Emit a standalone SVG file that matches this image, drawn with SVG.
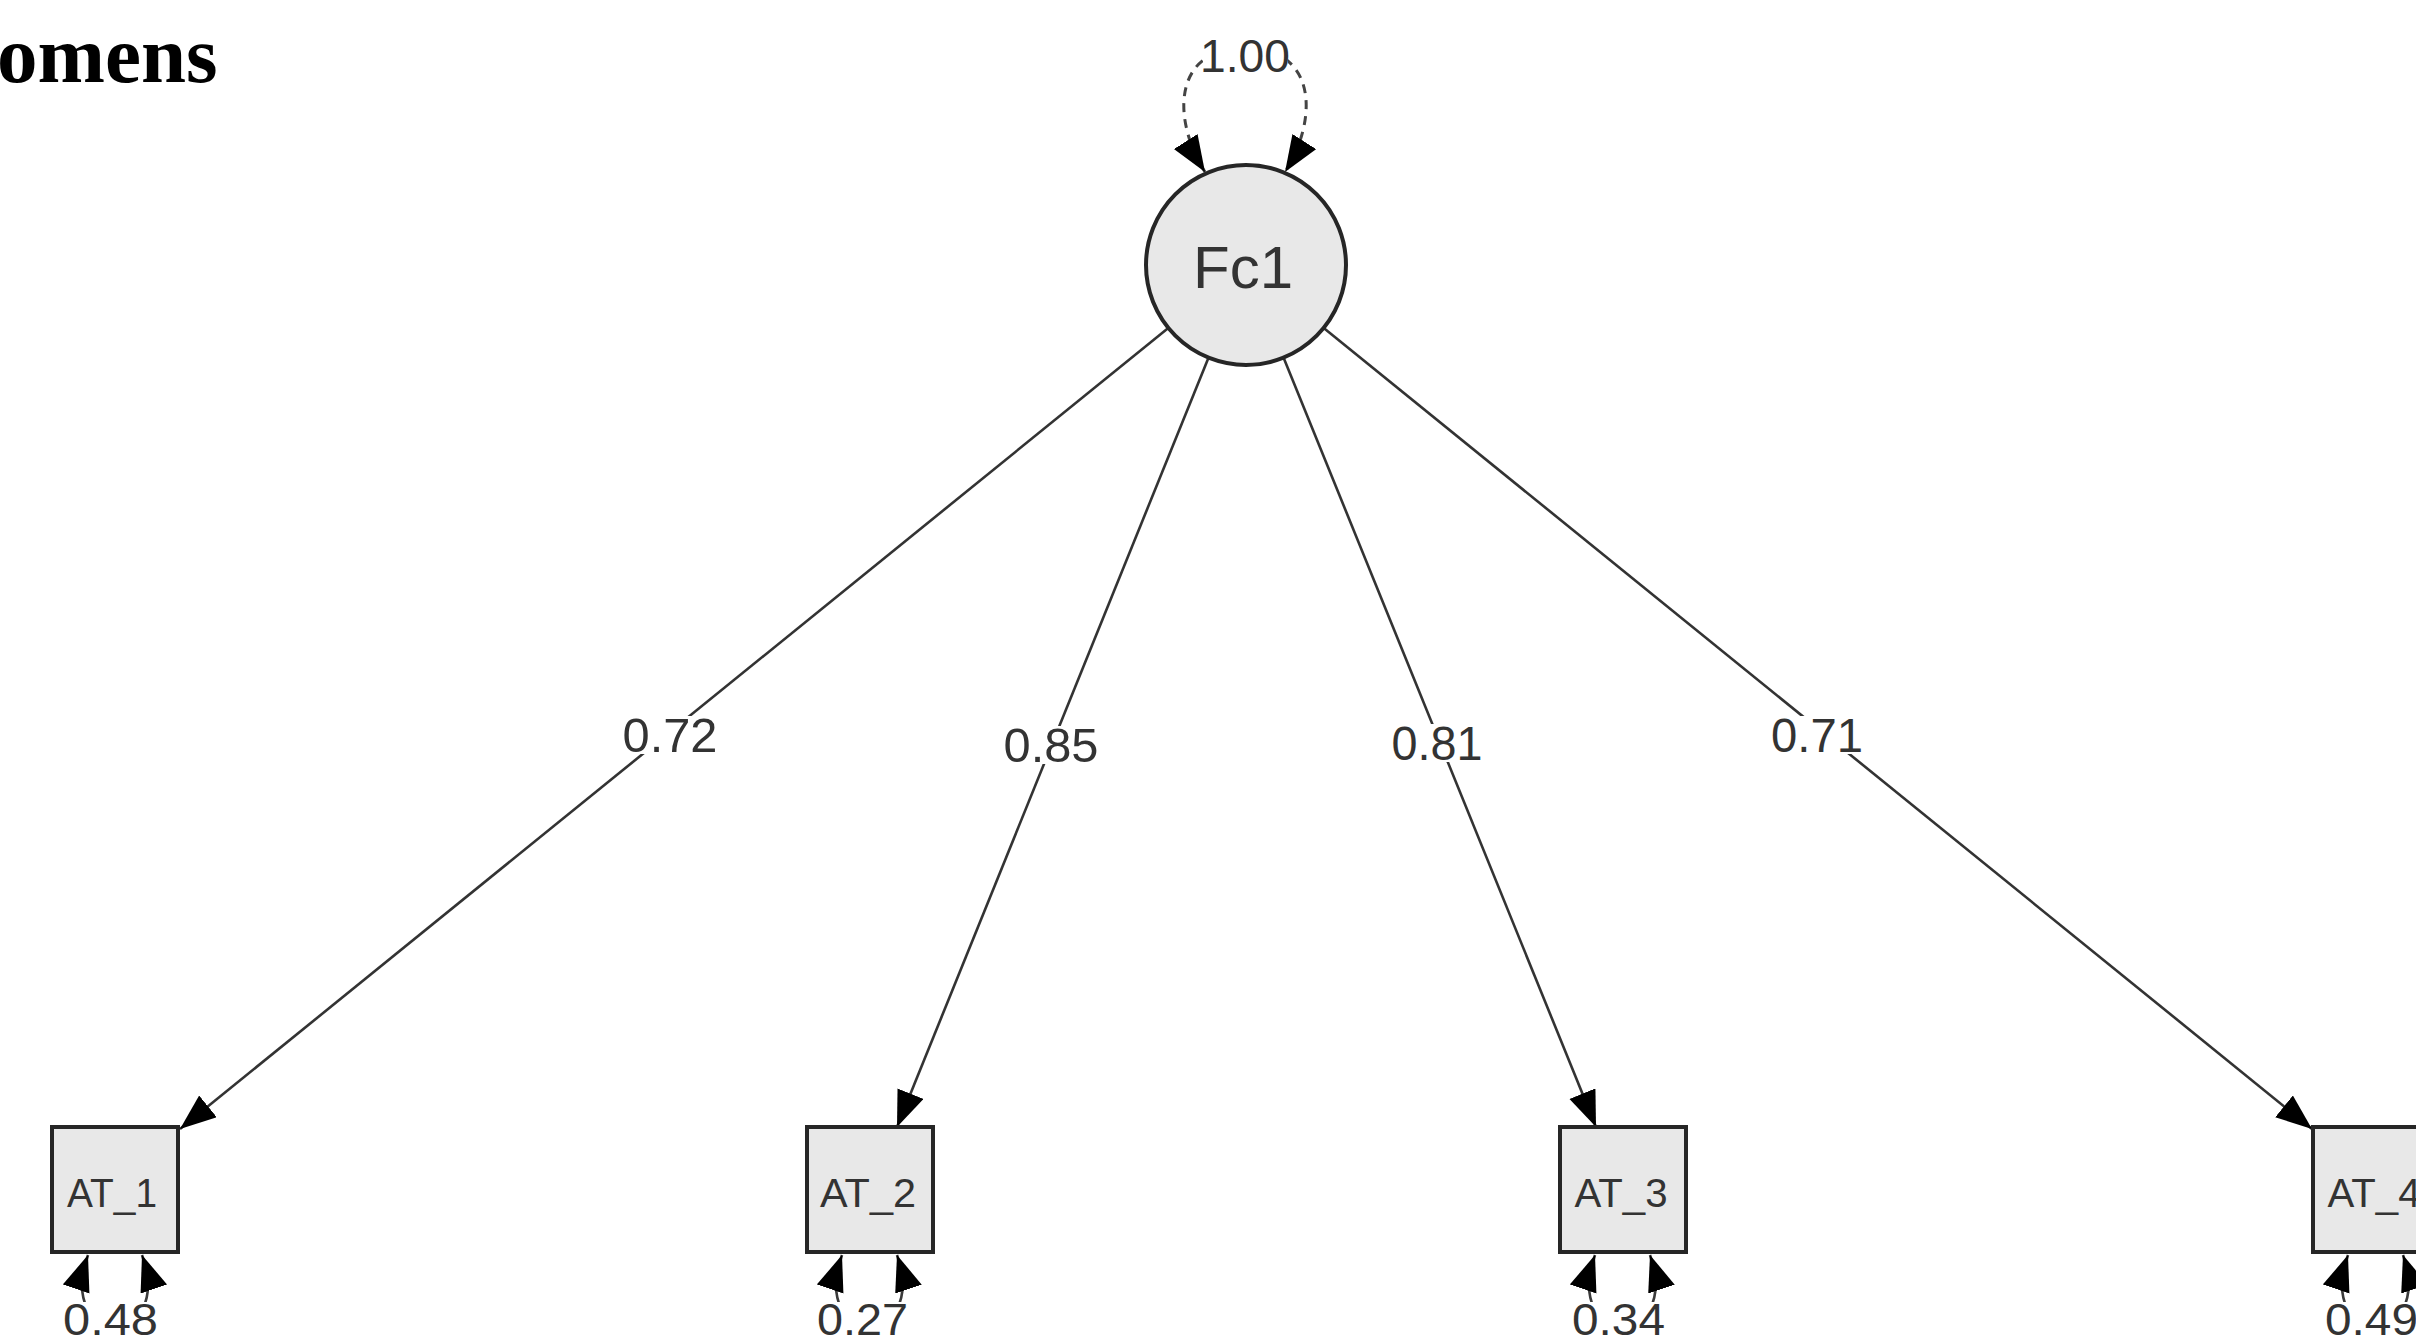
<svg xmlns="http://www.w3.org/2000/svg" width="2416" height="1344" viewBox="0 0 2416 1344">
  <style>
    .node { fill: #e8e8e8; stroke: #262626; stroke-width: 4; }
    .edge { fill: none; stroke: #333333; stroke-width: 2.6; }
    .loop { fill: none; stroke: #3a3a3a; stroke-width: 2.6; }
    .var  { fill: none; stroke: #444444; stroke-width: 3; stroke-dasharray: 9 7; }
    .lbl  { font-family: "Liberation Sans", Arial, sans-serif; fill: #333333; text-anchor: middle; }
    .bg   { fill: #ffffff; }
    .title { font-family: "Liberation Serif", "Times New Roman", serif; font-weight: bold; fill: #000000; }
  </style>
  <defs>
    <marker id="arrow" markerUnits="userSpaceOnUse" markerWidth="38" markerHeight="30"
            refX="36" refY="14" orient="auto-start-reverse" viewBox="0 0 38 30">
      <path d="M0,0 L36,14 L0,28 z" fill="#000000"/>
    </marker>
  </defs>

  <rect x="0" y="0" width="2416" height="1344" fill="#ffffff"/>

  <text class="title" x="-3" y="82" font-size="81">omens</text>

  <g id="connectors">
    <!-- factor loadings -->
    <line class="edge" x1="1168.3" y1="328" x2="180" y2="1129" marker-end="url(#arrow)"/>
    <line class="edge" x1="1208.5" y1="357.7" x2="897" y2="1127" marker-end="url(#arrow)"/>
    <line class="edge" x1="1283.6" y1="357.7" x2="1596" y2="1127" marker-end="url(#arrow)"/>
    <line class="edge" x1="1323.7" y1="328" x2="2312" y2="1129" marker-end="url(#arrow)"/>

    <!-- factor variance (dashed self loop) -->
    <path class="var" d="M1205,172 C1172,120 1172,48 1245,48 C1318,48 1318,120 1285,172"
          marker-start="url(#arrow)" marker-end="url(#arrow)"/>

    <!-- residual variances -->
    <path class="loop" d="M88,1255 C55,1350 175,1350 142,1255" marker-start="url(#arrow)" marker-end="url(#arrow)"/>
    <path class="loop" d="M842,1255 C809,1350 929,1350 897,1255" marker-start="url(#arrow)" marker-end="url(#arrow)"/>
    <path class="loop" d="M1595,1255 C1562,1350 1682,1350 1650,1255" marker-start="url(#arrow)" marker-end="url(#arrow)"/>
    <path class="loop" d="M2348,1255 C2315,1350 2435,1350 2403,1255" marker-start="url(#arrow)" marker-end="url(#arrow)"/>

    <!-- loading labels -->
    <rect class="bg" x="622" y="716" width="97" height="38"/>
    <text class="lbl" x="670" y="752" font-size="48" textLength="95" lengthAdjust="spacingAndGlyphs">0.72</text>
    <rect class="bg" x="1003" y="726" width="96" height="38"/>
    <text class="lbl" x="1051" y="762" font-size="48" textLength="95" lengthAdjust="spacingAndGlyphs">0.85</text>
    <rect class="bg" x="1390" y="724" width="94" height="38"/>
    <text class="lbl" x="1437" y="760" font-size="48" textLength="91" lengthAdjust="spacingAndGlyphs">0.81</text>
    <rect class="bg" x="1770" y="716" width="94" height="38"/>
    <text class="lbl" x="1817" y="752" font-size="48" textLength="92" lengthAdjust="spacingAndGlyphs">0.71</text>

    <!-- variance labels -->
    <rect class="bg" x="1203" y="37" width="85" height="36"/>
    <text class="lbl" x="1245" y="72" font-size="46" textLength="90" lengthAdjust="spacingAndGlyphs">1.00</text>

    <rect class="bg" x="58" y="1302" width="106" height="42"/>
    <text class="lbl" x="110.5" y="1335" font-size="44" textLength="95" lengthAdjust="spacingAndGlyphs">0.48</text>
    <rect class="bg" x="812" y="1302" width="102" height="42"/>
    <text class="lbl" x="862.5" y="1335" font-size="44" textLength="91" lengthAdjust="spacingAndGlyphs">0.27</text>
    <rect class="bg" x="1567" y="1302" width="103" height="42"/>
    <text class="lbl" x="1618.5" y="1335" font-size="44" textLength="93" lengthAdjust="spacingAndGlyphs">0.34</text>
    <rect class="bg" x="2320" y="1302" width="103" height="42"/>
    <text class="lbl" x="2371.5" y="1335" font-size="44" textLength="93" lengthAdjust="spacingAndGlyphs">0.49</text>
  </g>

  <g id="Fc1">
    <circle class="node" cx="1246" cy="265" r="100"/>
    <text class="lbl" x="1243" y="288" font-size="60">Fc1</text>
  </g>

  <g id="AT_1">
    <rect class="node" x="52" y="1127" width="126" height="125"/>
    <text class="lbl" x="112" y="1207" font-size="41" textLength="90" lengthAdjust="spacingAndGlyphs">AT_1</text>
  </g>
  <g id="AT_2">
    <rect class="node" x="807" y="1127" width="126" height="125"/>
    <text class="lbl" x="868" y="1207" font-size="41" textLength="96" lengthAdjust="spacingAndGlyphs">AT_2</text>
  </g>
  <g id="AT_3">
    <rect class="node" x="1560" y="1127" width="126" height="125"/>
    <text class="lbl" x="1621" y="1207" font-size="41" textLength="93" lengthAdjust="spacingAndGlyphs">AT_3</text>
  </g>
  <g id="AT_4">
    <rect class="node" x="2313" y="1127" width="126" height="125"/>
    <text class="lbl" x="2374" y="1207" font-size="41" textLength="93" lengthAdjust="spacingAndGlyphs">AT_4</text>
  </g>
</svg>
